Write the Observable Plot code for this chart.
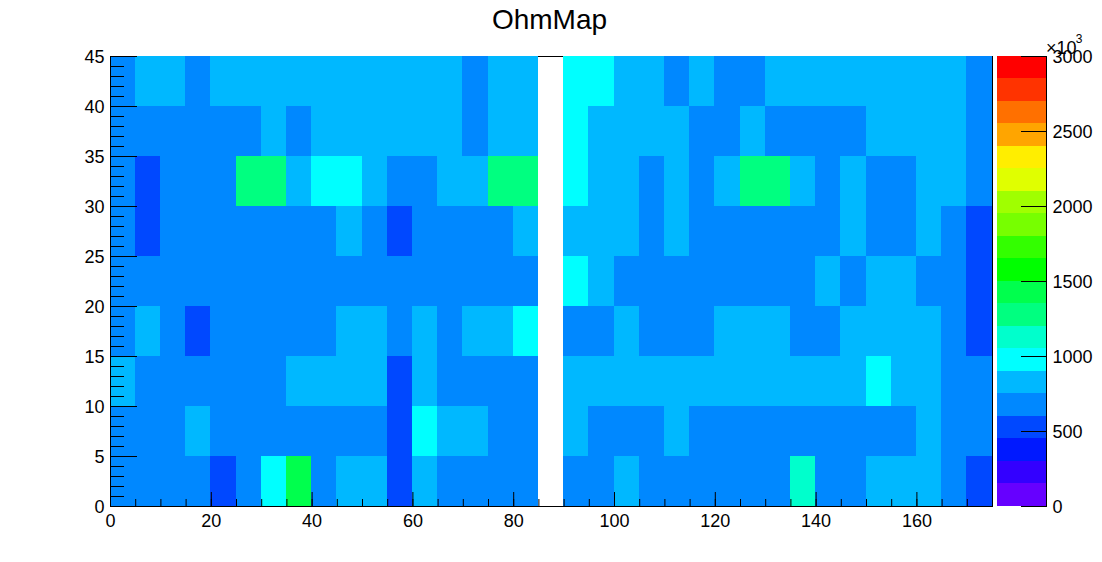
<!DOCTYPE html>
<html><head><meta charset="utf-8">
<script src="https://cdn.jsdelivr.net/npm/d3@7"></script>
<script src="https://cdn.jsdelivr.net/npm/@observablehq/plot@0.6"></script>
<style>
html,body{margin:0;padding:0;background:#fff}
#c{position:relative;width:1102px;height:562px;overflow:hidden}
#c svg{position:absolute;left:0;top:0;background:transparent}
</style></head><body><div id="c"></div>
<script>
const title = "OhmMap";
const binWidth = 5, binHeight = 5;
// Ohm values (thousands) by row, bottom (y 0-5) to top (y 40-45); null is an empty bin
const row0 = [680,680,680,680,530,680,980,1420,680,830,830,530,830,680,680,680,680,null,680,680,830,680,680,680,680,680,680,1130,680,680,830,830,830,680,530];
const row1 = [680,680,680,830,680,680,680,680,680,680,680,530,980,830,830,680,680,null,830,680,680,680,830,680,680,680,680,680,680,680,680,680,830,680,680];
const row2 = [830,680,680,680,680,680,680,830,830,830,830,530,830,680,680,680,680,null,830,830,830,830,830,830,830,830,830,830,830,830,980,830,830,680,680];
const row3 = [680,830,680,530,680,680,680,680,680,830,830,680,830,680,830,830,980,null,680,680,830,680,680,680,830,830,830,680,680,830,830,830,830,680,530];
const row4 = [680,680,680,680,680,680,680,680,680,680,680,680,680,680,680,680,680,null,980,830,680,680,680,680,680,680,680,680,830,680,830,830,680,680,530];
const row5 = [680,530,680,680,680,680,680,680,680,830,680,530,680,680,680,680,830,null,830,830,830,680,830,680,680,680,680,680,680,830,680,680,830,680,530];
const row6 = [680,530,680,680,680,1280,1280,830,980,980,830,680,680,830,830,1280,1280,null,980,830,830,680,830,680,830,1280,1280,830,680,830,680,680,830,830,680];
const row7 = [680,680,680,680,680,680,830,680,830,830,830,830,830,830,680,830,830,null,980,830,830,830,830,680,680,830,680,680,680,680,830,830,830,830,680];
const row8 = [680,830,830,680,830,830,830,830,830,830,830,830,830,830,680,830,830,null,980,980,830,830,680,830,680,680,830,830,830,830,830,830,830,830,680];
const rows = [row0,row1,row2,row3,row4,row5,row6,row7,row8];

const levelEdges = [150,300,450,600,750,900,1050,1200,1350,1500,1650,1800,1950,2100,2250,2400,2550,2700,2850];
const levelColors = ["#6600ff","#3300ff","#0019ff","#0048ff","#0088ff","#00b8ff","#00ffff","#00ffcc","#00ff80","#00ff4d","#00ff00","#33ff00","#77ff00","#a0ff00","#e0ff00","#ffee00","#ffa500","#ff7000","#ff3300","#ff0000"];
const legendBottoms = [0,150,300,450,600,750,900,1050,1200,1350,1500,1650,1800,1950,2100,2250,2400,2550,2700,2850];

const xMajor = [0,20,40,60,80,100,120,140,160];
const xMinor = [0,5,10,15,20,25,30,35,40,45,50,55,60,65,70,75,80,85,90,95,100,105,110,115,120,125,130,135,140,145,150,155,160,165,170,175];
const yMajor = [0,5,10,15,20,25,30,35,40,45];
const yMinor = [...d3.range(0,46)];
const zTicks = [0,500,1000,1500,2000,2500,3000];

const cells = rows.flatMap((r,j)=>r.map((v,i)=>({x:i*binWidth,y:j*binHeight,v}))).filter(d=>d.v!=null);
const color = {type:"threshold",domain:levelEdges,range:levelColors};
const font = "'Liberation Sans',Arial,sans-serif";

const main = Plot.plot({
  width:1102,height:562,marginLeft:110,marginRight:110,marginTop:56,marginBottom:56,
  style:{fontFamily:font,fontSize:"18px",color:"#000",background:"transparent",overflow:"visible"},
  x:{domain:[0,175],label:null},
  y:{domain:[0,45],label:null},
  color,
  marks:[
    Plot.frame({anchor:"top",stroke:"#000"}),
    Plot.rect(cells,{x1:"x",x2:d=>d.x+binWidth,y1:"y",y2:d=>d.y+binHeight,fill:"v",shapeRendering:"crispEdges",dx:-0.5,dy:-0.5}),
    Plot.axisX({ticks:xMinor,tickSize:-7,tickFormat:null,text:null,stroke:"#000",label:null}),
    Plot.axisX({ticks:xMajor,tickSize:-14,tickFormat:null,text:null,stroke:"#000",label:null}),
    Plot.axisX({ticks:xMajor,tickSize:0,tickPadding:8,tickFormat:d=>String(d),fill:"#000",label:null,fontSize:18}),
    Plot.axisY({ticks:yMinor,tickSize:-14,text:null,stroke:"#000",label:null}),
    Plot.axisY({ticks:yMajor,tickSize:-27,text:null,stroke:"#000",label:null}),
    Plot.axisY({ticks:yMajor,tickSize:0,tickPadding:6,dy:1,tickFormat:d=>String(d),fill:"#000",label:null,fontSize:18}),
    Plot.frame({anchor:"left",stroke:"#000"}),
    Plot.frame({anchor:"bottom",stroke:"#000"}),
    Plot.frame({anchor:"right",stroke:"#000"}),
    Plot.text([title],{frameAnchor:"top",dx:-2,dy:-47,lineAnchor:"top",fontSize:28,fill:"#000",text:d=>d})
  ]
});
const legend = Plot.plot({
  width:1102,height:562,marginLeft:997,marginRight:56,marginTop:56,marginBottom:56,
  style:{fontFamily:font,fontSize:"18px",color:"#000",background:"transparent",overflow:"visible"},
  x:{domain:[0,1],axis:null},
  y:{domain:[0,3000],label:null,axis:null},
  color,
  marks:[
    Plot.rect(legendBottoms,{x1:0,x2:1,y1:d=>d,y2:d=>d+150,fill:d=>d+1,shapeRendering:"crispEdges",dx:-0.5,dy:-0.5}),
    Plot.axisY({anchor:"right",ticks:zTicks,tickSize:-26,text:null,stroke:"#000",label:null}),
    Plot.axisY({anchor:"right",ticks:zTicks,tickSize:0,tickPadding:6,dy:1,textAnchor:"start",tickFormat:d=>String(d),fill:"#000",label:null,fontSize:18}),
    Plot.frame({anchor:"right",stroke:"#000"}),
    Plot.text(["×10"],{frameAnchor:"top-right",dx:30,dy:-15,textAnchor:"end",lineAnchor:"top",fontSize:18,fill:"#000",text:d=>d}),
    Plot.text(["3"],{frameAnchor:"top-right",dx:36,dy:-22,textAnchor:"end",lineAnchor:"top",fontSize:12,fill:"#000",text:d=>d})
  ]
});
document.getElementById("c").append(main,legend);
</script></body></html>
